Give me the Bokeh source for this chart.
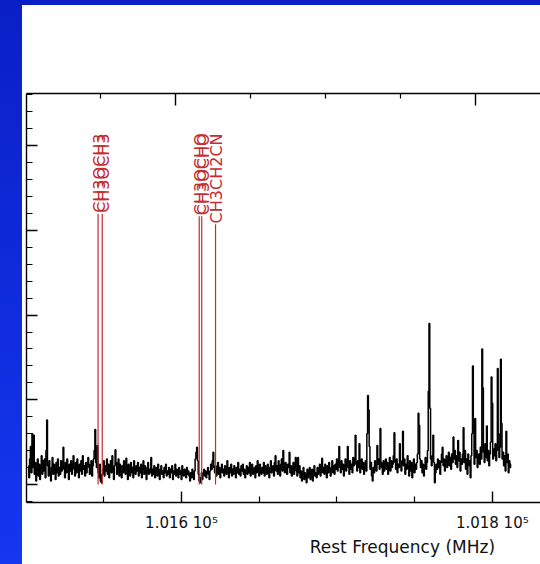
import numpy as np
from bokeh.plotting import figure
from bokeh.models import Range1d, LinearAxis, FixedTicker, Spacer
from bokeh.layouts import column, row
from bokeh.embed import file_html
from bokeh.resources import INLINE
from bokeh.core.properties import value

# Spectrum: channels of 0.5 MHz starting at 101501.5 MHz, antenna temperature in mK
f_start = 101501.5
f_step = 0.5
t_mk = [
    22, 8, 30, 45, 14, 60, 20, 58, 12, 26, 4, 18, 30, 10, 24, 6, 20, 34, 12, 28,
    16, 30, 8, 40, 76, 22, 10, 28, 14, 4, 20, 32, 12, 24, 18, 6, 26, 14, 30, 10,
    20, 12, 28, 16, 22, 44, 18, 8, 26, 14, 30, 20, 6, 24, 16, 28, 12, 22, 34, 18,
    10, 26, 14, 30, 20, 8, 24, 16, 28, 12, 34, 18, 22, 10, 26, 14, 20, 32, 24, 12,
    18, 28, 10, 22, 30, 40, 65, 26, 20, 46, 14, 8, 24, 4, 2, 12, 18, 28, 10, 22,
    16, 30, 12, 24, 8, 20, 28, 14, 34, 18, 6, 22, 41, 26, 12, 20, 30, 10, 24, 16,
    8, 22, 14, 28, 18, 12, 31, 20, 6, 24, 16, 10, 26, 14, 20, 8, 28, 18, 12, 22,
    16, 26, 10, 20, 14, 24, 8, 18, 28, 12, 22, 16, 6, 20, 26, 12, 18, 14, 32, 10,
    18, 12, 22, 8, 16, 20, 10, 24, 14, 6, 18, 22, 12, 16, 8, 20, 14, 24, 10, 16,
    12, 20, 8, 18, 14, 22, 6, 16, 12, 24, 10, 18, 14, 8, 20, 12, 16, 6, 22, 14,
    10, 18, 14, 8, 20, 12, 16, 10, 4, 14, 8, 18, 12, 6, 16, 30, 38, 44, 28, 12,
    4, 2, 8, 14, 6, 12, 18, 10, 16, 8, 14, 20, 12, 6, 16, 24, 18, 28, 38, 20,
    14, 22, 10, 18, 26, 12, 20, 8, 16, 24, 14, 18, 10, 22, 16, 12, 28, 18, 8, 20,
    14, 24, 10, 18, 12, 22, 16, 8, 20, 14, 26, 12, 18, 10, 22, 16, 24, 12, 18, 8,
    16, 22, 12, 20, 14, 26, 10, 18, 24, 12, 16, 20, 8, 22, 14, 28, 18, 10, 24, 16,
    12, 20, 14, 26, 10, 22, 18, 12, 24, 16, 8, 20, 28, 14, 18, 22, 10, 26, 34, 16,
    22, 12, 28, 18, 10, 24, 30, 16, 40, 20, 14, 26, 18, 12, 24, 20, 38, 14, 22, 10,
    18, 26, 12, 20, 32, 16, 10, 32, 14, 22, 8, 16, 4, 12, 20, 6, 14, 10, 2, 18,
    8, 14, 20, 6, 12, 18, 4, 16, 22, 10, 14, 8, 20, 12, 16, 24, 10, 18, 31, 14,
    20, 12, 24, 16, 8, 22, 14, 26, 18, 10, 20, 28, 14, 22, 12, 24, 18, 30, 16, 26,
    45, 20, 14, 28, 18, 24, 10, 22, 30, 16, 26, 45, 20, 12, 28, 18, 24, 14, 32, 22,
    30, 58, 24, 16, 28, 20, 48, 14, 22, 30, 18, 26, 12, 20, 28, 16, 60, 105, 88, 45,
    18, 26, 10, 4, 20, 14, 28, 22, 16, 46, 24, 30, 18, 66, 26, 20, 12, 28, 16, 24,
    30, 18, 26, 12, 22, 32, 16, 28, 20, 24, 34, 61, 26, 18, 30, 14, 24, 20, 48, 28,
    16, 26, 63, 22, 30, 12, 24, 18, 34, 20, 10, 28, 16, 26, 8, 22, 30, 14, 24, 18,
    26, 36, 84, 70, 30, 20, 28, 14, 24, 10, 22, 32, 18, 26, 40, 110, 190, 90, 30, 22,
    34, 58, 26, 2, 14, 24, 18, 30, 20, 28, 12, 26, 36, 44, 22, 30, 16, 26, 34, 20,
    28, 38, 22, 32, 18, 36, 26, 56, 30, 40, 24, 34, 20, 52, 28, 38, 16, 30, 24, 36,
    67, 26, 40, 18, 30, 12, 36, 22, 28, 8, 34, 60, 140, 75, 24, 78, 32, 40, 20, 30,
    36, 24, 44, 30, 160, 114, 38, 26, 48, 32, 69, 28, 40, 22, 36, 50, 127, 96, 30, 42,
    34, 48, 28, 40, 137, 60, 32, 44, 148, 72, 30, 38, 22, 34, 16, 63, 26, 36, 14, 28, 20, 24,
]

# Line identifications (rest frequency, MHz)
line_names = ["CH3OCH3", "CH3OCH3", "CH3OCHO", "CH3OCHO", "CH3CH2CN"]
line_freqs = [101546.3, 101549.0, 101611.4, 101613.0, 101621.9]

# Axis ticks
x_major = [101600, 101800]
x_minor = [101550, 101650, 101700, 101750]
x_labels = {101600: "1.016 10\u2075", 101800: "1.018 10\u2075"}
x_title = "Rest Frequency (MHz)"
top_major = [100, 300]
top_minor = [50, 150, 200, 250]
y_major = [0, 100, 200, 300, 400]
y_minor = list(range(-20, 461, 20))

freq = f_start + f_step * np.arange(len(t_mk))

RED = "#c42c30"
FONT = "DejaVu Sans"

p = figure(width=518, height=559,
           x_range=Range1d(101500.26, 101831.0),
           y_range=Range1d(-21.25, 461.6),
           output_backend="svg", toolbar_location=None,
           x_axis_location=None, y_axis_location=None,
           min_border_left=4, min_border_right=0,
           min_border_top=88, min_border_bottom=62)
p.grid.visible = False
p.outline_line_color = None
p.background_fill_color = "white"
p.border_fill_color = "white"
p.extra_x_ranges = {"top": Range1d(0.667, 343.33)}


def style_axis(ax, major_in=11, minor_in=6):
    ax.axis_line_color = "black"
    ax.axis_line_width = 1.4
    ax.major_tick_line_color = "black"
    ax.minor_tick_line_color = "black"
    ax.major_tick_line_width = 1.4
    ax.minor_tick_line_width = 1.2
    ax.major_tick_in = major_in
    ax.major_tick_out = 0
    ax.minor_tick_in = minor_in
    ax.minor_tick_out = 0


bottom = LinearAxis(ticker=FixedTicker(ticks=x_major, minor_ticks=x_minor),
                    major_label_overrides=x_labels)
style_axis(bottom)
bottom.major_label_standoff = 11
bottom.major_label_text_font = FONT
bottom.major_label_text_font_size = "15px"
bottom.major_label_text_color = "#111111"
p.add_layout(bottom, "below")

# axis title set under the right half of the frame (leading no-break spaces
# push the centred title to the right)
title_axis = LinearAxis(ticker=FixedTicker(ticks=[]),
                        axis_label="\u00a0" * 44 + x_title)
title_axis.axis_line_color = None
title_axis.major_tick_line_color = None
title_axis.minor_tick_line_color = None
title_axis.major_label_text_font_size = "0px"
title_axis.major_label_standoff = 0
title_axis.axis_label_standoff = 2
title_axis.axis_label_text_font = FONT
title_axis.axis_label_text_font_style = "normal"
title_axis.axis_label_text_font_size = "17px"
title_axis.axis_label_text_color = "#111111"
p.add_layout(title_axis, "below")

top = LinearAxis(x_range_name="top",
                 ticker=FixedTicker(ticks=top_major, minor_ticks=top_minor))
style_axis(top, major_in=12, minor_in=5)
top.major_label_text_font_size = "0px"
top.major_label_standoff = 0
p.add_layout(top, "above")

left = LinearAxis(ticker=FixedTicker(ticks=y_major, minor_ticks=y_minor))
style_axis(left)
left.major_label_text_font_size = "0px"
left.major_label_standoff = 0
p.add_layout(left, "left")

# spectrum as a histogram
p.step(x=freq, y=t_mk, mode="center", line_color="black", line_width=1.5)

# line markers: label top-aligned, marker running from the label down to zero
char_w = {"C": 0.698, "H": 0.752, "O": 0.787, "N": 0.748, "2": 0.636, "3": 0.636}
label_fs = 16
px_per_mk = 409 / (461.6 + 21.25)
label_top = 414.4
tops = [label_top - (sum(char_w[c] for c in n) * label_fs + 1) / px_per_mk
        for n in line_names]
p.segment(x0=line_freqs, y0=[0] * len(line_freqs), x1=line_freqs, y1=tops,
          line_color=RED, line_width=1.2)
p.text(x=[f + 0.9 for f in line_freqs], y=[label_top] * len(line_freqs),
       text=line_names, angle=np.pi / 2, text_align="right",
       text_baseline="alphabetic", text_color=RED,
       text_font=value(FONT), text_font_size=f"{label_fs}px")

top_band = Spacer(width=540, height=5, styles={"background": "#0a20c6"})
left_band = Spacer(width=22, height=559,
                   styles={"background": "linear-gradient(to bottom, #0a20c6, #1437f0)"})
layout = column(top_band, row(left_band, p, spacing=0), spacing=0)

open("out.html", "w").write(file_html(layout, INLINE))
